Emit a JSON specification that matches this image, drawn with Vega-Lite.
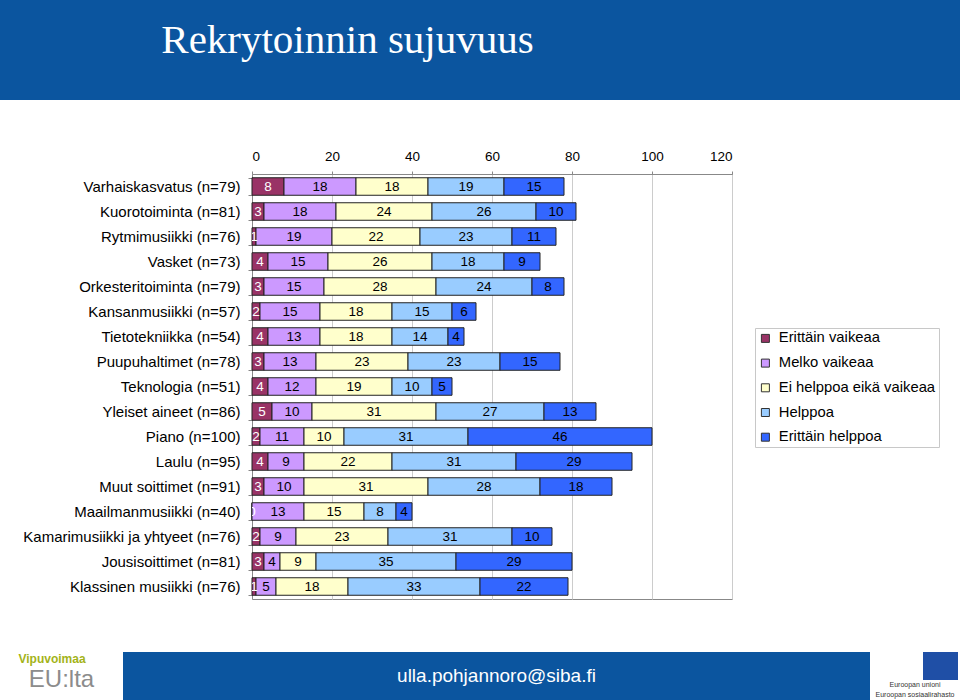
{
  "$schema": "https://vega.github.io/schema/vega-lite/v6.json",
  "padding": 0,
  "background": "white",
  "config": {"view": {"stroke": null}, "font": "Liberation Sans", "concat": {"spacing": 0}},
  "datasets": {
    "d": [
      {"c":"Varhaiskasvatus (n=79)","s":"Erittäin vaikeaa","i":1,"v":8},
      {"c":"Varhaiskasvatus (n=79)","s":"Melko vaikeaa","i":2,"v":18},
      {"c":"Varhaiskasvatus (n=79)","s":"Ei helppoa eikä vaikeaa","i":3,"v":18},
      {"c":"Varhaiskasvatus (n=79)","s":"Helppoa","i":4,"v":19},
      {"c":"Varhaiskasvatus (n=79)","s":"Erittäin helppoa","i":5,"v":15},
      {"c":"Kuorotoiminta (n=81)","s":"Erittäin vaikeaa","i":1,"v":3},
      {"c":"Kuorotoiminta (n=81)","s":"Melko vaikeaa","i":2,"v":18},
      {"c":"Kuorotoiminta (n=81)","s":"Ei helppoa eikä vaikeaa","i":3,"v":24},
      {"c":"Kuorotoiminta (n=81)","s":"Helppoa","i":4,"v":26},
      {"c":"Kuorotoiminta (n=81)","s":"Erittäin helppoa","i":5,"v":10},
      {"c":"Rytmimusiikki (n=76)","s":"Erittäin vaikeaa","i":1,"v":1},
      {"c":"Rytmimusiikki (n=76)","s":"Melko vaikeaa","i":2,"v":19},
      {"c":"Rytmimusiikki (n=76)","s":"Ei helppoa eikä vaikeaa","i":3,"v":22},
      {"c":"Rytmimusiikki (n=76)","s":"Helppoa","i":4,"v":23},
      {"c":"Rytmimusiikki (n=76)","s":"Erittäin helppoa","i":5,"v":11},
      {"c":"Vasket (n=73)","s":"Erittäin vaikeaa","i":1,"v":4},
      {"c":"Vasket (n=73)","s":"Melko vaikeaa","i":2,"v":15},
      {"c":"Vasket (n=73)","s":"Ei helppoa eikä vaikeaa","i":3,"v":26},
      {"c":"Vasket (n=73)","s":"Helppoa","i":4,"v":18},
      {"c":"Vasket (n=73)","s":"Erittäin helppoa","i":5,"v":9},
      {"c":"Orkesteritoiminta (n=79)","s":"Erittäin vaikeaa","i":1,"v":3},
      {"c":"Orkesteritoiminta (n=79)","s":"Melko vaikeaa","i":2,"v":15},
      {"c":"Orkesteritoiminta (n=79)","s":"Ei helppoa eikä vaikeaa","i":3,"v":28},
      {"c":"Orkesteritoiminta (n=79)","s":"Helppoa","i":4,"v":24},
      {"c":"Orkesteritoiminta (n=79)","s":"Erittäin helppoa","i":5,"v":8},
      {"c":"Kansanmusiikki (n=57)","s":"Erittäin vaikeaa","i":1,"v":2},
      {"c":"Kansanmusiikki (n=57)","s":"Melko vaikeaa","i":2,"v":15},
      {"c":"Kansanmusiikki (n=57)","s":"Ei helppoa eikä vaikeaa","i":3,"v":18},
      {"c":"Kansanmusiikki (n=57)","s":"Helppoa","i":4,"v":15},
      {"c":"Kansanmusiikki (n=57)","s":"Erittäin helppoa","i":5,"v":6},
      {"c":"Tietotekniikka (n=54)","s":"Erittäin vaikeaa","i":1,"v":4},
      {"c":"Tietotekniikka (n=54)","s":"Melko vaikeaa","i":2,"v":13},
      {"c":"Tietotekniikka (n=54)","s":"Ei helppoa eikä vaikeaa","i":3,"v":18},
      {"c":"Tietotekniikka (n=54)","s":"Helppoa","i":4,"v":14},
      {"c":"Tietotekniikka (n=54)","s":"Erittäin helppoa","i":5,"v":4},
      {"c":"Puupuhaltimet (n=78)","s":"Erittäin vaikeaa","i":1,"v":3},
      {"c":"Puupuhaltimet (n=78)","s":"Melko vaikeaa","i":2,"v":13},
      {"c":"Puupuhaltimet (n=78)","s":"Ei helppoa eikä vaikeaa","i":3,"v":23},
      {"c":"Puupuhaltimet (n=78)","s":"Helppoa","i":4,"v":23},
      {"c":"Puupuhaltimet (n=78)","s":"Erittäin helppoa","i":5,"v":15},
      {"c":"Teknologia (n=51)","s":"Erittäin vaikeaa","i":1,"v":4},
      {"c":"Teknologia (n=51)","s":"Melko vaikeaa","i":2,"v":12},
      {"c":"Teknologia (n=51)","s":"Ei helppoa eikä vaikeaa","i":3,"v":19},
      {"c":"Teknologia (n=51)","s":"Helppoa","i":4,"v":10},
      {"c":"Teknologia (n=51)","s":"Erittäin helppoa","i":5,"v":5},
      {"c":"Yleiset aineet (n=86)","s":"Erittäin vaikeaa","i":1,"v":5},
      {"c":"Yleiset aineet (n=86)","s":"Melko vaikeaa","i":2,"v":10},
      {"c":"Yleiset aineet (n=86)","s":"Ei helppoa eikä vaikeaa","i":3,"v":31},
      {"c":"Yleiset aineet (n=86)","s":"Helppoa","i":4,"v":27},
      {"c":"Yleiset aineet (n=86)","s":"Erittäin helppoa","i":5,"v":13},
      {"c":"Piano (n=100)","s":"Erittäin vaikeaa","i":1,"v":2},
      {"c":"Piano (n=100)","s":"Melko vaikeaa","i":2,"v":11},
      {"c":"Piano (n=100)","s":"Ei helppoa eikä vaikeaa","i":3,"v":10},
      {"c":"Piano (n=100)","s":"Helppoa","i":4,"v":31},
      {"c":"Piano (n=100)","s":"Erittäin helppoa","i":5,"v":46},
      {"c":"Laulu (n=95)","s":"Erittäin vaikeaa","i":1,"v":4},
      {"c":"Laulu (n=95)","s":"Melko vaikeaa","i":2,"v":9},
      {"c":"Laulu (n=95)","s":"Ei helppoa eikä vaikeaa","i":3,"v":22},
      {"c":"Laulu (n=95)","s":"Helppoa","i":4,"v":31},
      {"c":"Laulu (n=95)","s":"Erittäin helppoa","i":5,"v":29},
      {"c":"Muut soittimet (n=91)","s":"Erittäin vaikeaa","i":1,"v":3},
      {"c":"Muut soittimet (n=91)","s":"Melko vaikeaa","i":2,"v":10},
      {"c":"Muut soittimet (n=91)","s":"Ei helppoa eikä vaikeaa","i":3,"v":31},
      {"c":"Muut soittimet (n=91)","s":"Helppoa","i":4,"v":28},
      {"c":"Muut soittimet (n=91)","s":"Erittäin helppoa","i":5,"v":18},
      {"c":"Maailmanmusiikki (n=40)","s":"Erittäin vaikeaa","i":1,"v":0},
      {"c":"Maailmanmusiikki (n=40)","s":"Melko vaikeaa","i":2,"v":13},
      {"c":"Maailmanmusiikki (n=40)","s":"Ei helppoa eikä vaikeaa","i":3,"v":15},
      {"c":"Maailmanmusiikki (n=40)","s":"Helppoa","i":4,"v":8},
      {"c":"Maailmanmusiikki (n=40)","s":"Erittäin helppoa","i":5,"v":4},
      {"c":"Kamarimusiikki ja yhtyeet (n=76)","s":"Erittäin vaikeaa","i":1,"v":2},
      {"c":"Kamarimusiikki ja yhtyeet (n=76)","s":"Melko vaikeaa","i":2,"v":9},
      {"c":"Kamarimusiikki ja yhtyeet (n=76)","s":"Ei helppoa eikä vaikeaa","i":3,"v":23},
      {"c":"Kamarimusiikki ja yhtyeet (n=76)","s":"Helppoa","i":4,"v":31},
      {"c":"Kamarimusiikki ja yhtyeet (n=76)","s":"Erittäin helppoa","i":5,"v":10},
      {"c":"Jousisoittimet (n=81)","s":"Erittäin vaikeaa","i":1,"v":3},
      {"c":"Jousisoittimet (n=81)","s":"Melko vaikeaa","i":2,"v":4},
      {"c":"Jousisoittimet (n=81)","s":"Ei helppoa eikä vaikeaa","i":3,"v":9},
      {"c":"Jousisoittimet (n=81)","s":"Helppoa","i":4,"v":35},
      {"c":"Jousisoittimet (n=81)","s":"Erittäin helppoa","i":5,"v":29},
      {"c":"Klassinen musiikki (n=76)","s":"Erittäin vaikeaa","i":1,"v":1},
      {"c":"Klassinen musiikki (n=76)","s":"Melko vaikeaa","i":2,"v":5},
      {"c":"Klassinen musiikki (n=76)","s":"Ei helppoa eikä vaikeaa","i":3,"v":18},
      {"c":"Klassinen musiikki (n=76)","s":"Helppoa","i":4,"v":33},
      {"c":"Klassinen musiikki (n=76)","s":"Erittäin helppoa","i":5,"v":22}
    ]
  },
  "columns": 1,
  "spacing": 0,
  "concat": [
    {
      "spacing": 0,
      "hconcat": [
        {"width": 150, "height": 100, "view": {"fill": "#0b559f", "stroke": null}, "data": {"values": [{}]}, "mark": {"type": "text"}, "encoding": {"text": {"value": ""}}},
        {"width": 395, "height": 100, "view": {"fill": "#0b559f", "stroke": null}, "data": {"values": [{"t": "Rekrytoinnin sujuvuus"}]}, "mark": {"type": "text", "font": "Liberation Serif", "fontSize": 41, "color": "white", "baseline": "alphabetic", "dy": 3}, "encoding": {"text": {"field": "t"}}},
        {"width": 415, "height": 100, "view": {"fill": "#0b559f", "stroke": null}, "data": {"values": [{}]}, "mark": {"type": "text"}, "encoding": {"text": {"value": ""}}}
      ]
    },
    {"width": 960, "height": 48, "data": {"values": [{}]}, "mark": {"type": "text"}, "encoding": {"text": {"value": ""}}},
    {
      "spacing": 0,
      "bounds": "flush",
      "hconcat": [
        {"width": 252, "height": 425, "data": {"values": [{}]}, "mark": {"type": "text"}, "encoding": {"text": {"value": ""}}},
        {
          "width": 480,
          "height": 425,
          "view": {"stroke": "#888", "fill": "white"},
          "data": {"name": "d"},
          "layer": [
            {
              "mark": {"type": "bar", "stroke": "#222", "strokeWidth": 1},
              "encoding": {
                "y": {"field": "c", "type": "nominal", "sort": null, "scale": {"paddingInner": 0.3, "paddingOuter": 0.15},
                  "axis": {"title": null, "labelFontSize": 15, "labelColor": "black", "domainColor": "#888", "tickColor": "#888", "tickSize": 4, "tickBand": "extent", "labelPadding": 8, "labelLimit": 0}},
                "x": {"field": "v", "type": "quantitative", "stack": "zero", "scale": {"domain": [0, 120], "nice": false},
                  "axis": {"orient": "top", "title": null, "values": [0, 20, 40, 60, 80, 100, 120], "labelFontSize": 13.5, "labelColor": "black", "domainColor": "#888", "tickColor": "#888", "tickSize": 3, "gridColor": "#ccc", "labelPadding": 8}},
                "color": {"field": "s", "type": "nominal",
                  "scale": {"domain": ["Erittäin vaikeaa", "Melko vaikeaa", "Ei helppoa eikä vaikeaa", "Helppoa", "Erittäin helppoa"], "range": ["#993366", "#cc99ff", "#ffffcc", "#99ccff", "#3366ff"]},
                  "legend": {"orient": "none", "legendX": 755, "legendY": 328, "title": null, "symbolType": "square", "symbolSize": 64, "symbolStrokeColor": "#333", "symbolStrokeWidth": 1, "labelFontSize": 14.8, "labelColor": "black", "strokeColor": "#c8c8c8", "fillColor": "white", "padding": 3, "rowPadding": 8.7, "labelOffset": 6, "labelLimit": 0}},
                "order": {"field": "i"}
              }
            },
            {
              "mark": {"type": "text", "fontSize": 13.5, "clip": true},
              "encoding": {
                "y": {"field": "c", "type": "nominal", "sort": null},
                "x": {"field": "v", "type": "quantitative", "stack": "zero", "bandPosition": 0.5},
                "detail": {"field": "s"},
                "order": {"field": "i"},
                "text": {"field": "v"},
                "color": {"condition": {"test": "datum.s === 'Erittäin vaikeaa'", "value": "white"}, "value": "black"}
              }
            }
          ]
        }
      ]
    },
    {"width": 960, "height": 52, "data": {"values": [{}]}, "mark": {"type": "text"}, "encoding": {"text": {"value": ""}}},
    {
      "spacing": 0,
      "hconcat": [
        {
          "spacing": 0,
          "bounds": "flush",
          "vconcat": [
            {"width": 104, "height": 13, "data": {"values": [{"t": "Vipuvoimaa"}]}, "mark": {"type": "text", "fontSize": 12, "fontWeight": "bold", "color": "#a3b318", "baseline": "middle"}, "encoding": {"text": {"field": "t"}}},
            {"width": 123, "height": 30, "data": {"values": [{"t": "EU:lta"}]}, "mark": {"type": "text", "fontSize": 24, "color": "#8c8c8c", "baseline": "middle"}, "encoding": {"text": {"field": "t"}}},
            {"width": 123, "height": 5, "data": {"values": [{}]}, "mark": {"type": "text"}, "encoding": {"text": {"value": ""}}}
          ]
        },
        {"width": 747, "height": 48, "view": {"fill": "#0b559f", "stroke": null}, "data": {"values": [{"t": "ulla.pohjannoro@siba.fi"}]}, "mark": {"type": "text", "fontSize": 19, "color": "white"}, "encoding": {"text": {"field": "t"}}},
        {
          "spacing": 0,
          "vconcat": [
            {
              "spacing": 0,
              "bounds": "flush",
              "hconcat": [
                {"width": 53, "height": 28, "data": {"values": [{}]}, "mark": {"type": "text"}, "encoding": {"text": {"value": ""}}},
                {"width": 35, "height": 28, "view": {"fill": "#1f4fa6", "stroke": null}, "data": {"values": [{}]}, "mark": {"type": "text"}, "encoding": {"text": {"value": ""}}}
              ]
            },
            {"width": 90, "height": 10, "data": {"values": [{"t": "Euroopan unioni"}]}, "mark": {"type": "text", "fontSize": 7, "color": "#333", "baseline": "middle"}, "encoding": {"text": {"field": "t"}}},
            {"width": 90, "height": 10, "data": {"values": [{"t": "Euroopan sosiaalirahasto"}]}, "mark": {"type": "text", "fontSize": 7, "color": "#333", "baseline": "middle"}, "encoding": {"text": {"field": "t"}}}
          ]
        }
      ]
    }
  ]
}
